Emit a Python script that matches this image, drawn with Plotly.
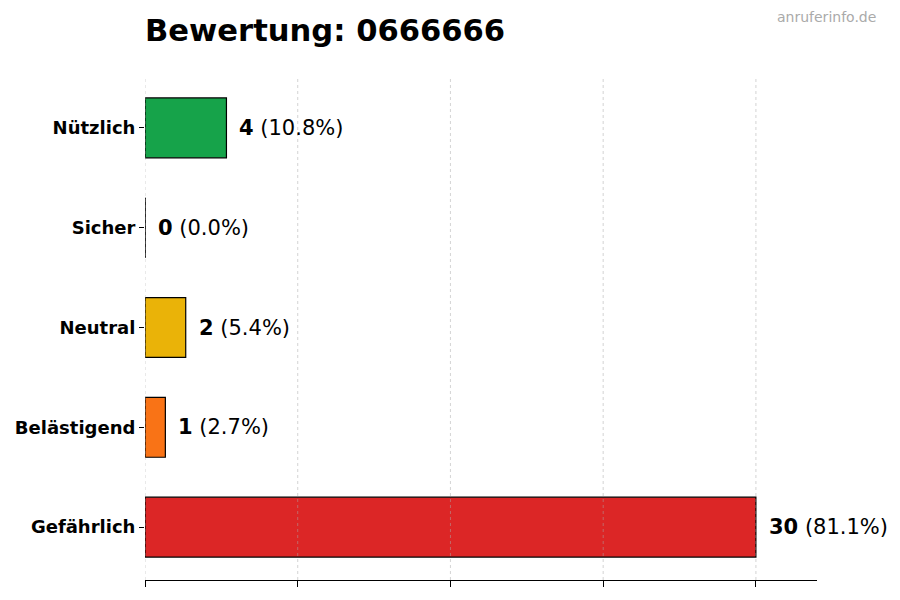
import plotly.graph_objects as go

categories = ["Gefährlich", "Belästigend", "Neutral", "Sicher", "Nützlich"]
counts = [30, 1, 2, 0, 4]
colors = ["#dc2626", "#f97316", "#eab308", "#16a34a", "#16a34a"]
x_ticks = [0, 7.5, 15, 22.5, 30]

total = sum(counts)
positions = list(range(len(categories)))

# page body has an 8px margin, so the figure is a bit smaller than the window
W, H = 884, 584
GRID = "rgba(170,170,170,0.5)"

fig = go.Figure()
fig.add_trace(go.Bar(
    x=counts, y=positions, orientation="h", width=0.6,
    marker=dict(color=colors, line=dict(color="black", width=1.2)),
    hoverinfo="skip",
))

# zero-width bar still gets its outline in the original
for pos, val in zip(positions, counts):
    if val == 0:
        fig.add_shape(type="line", x0=0, x1=0, y0=pos - 0.3, y1=pos + 0.3,
                      xref="x", yref="y", line=dict(color="black", width=1.2))

# grid drawn on top of the bars, like the original
for t in x_ticks:
    fig.add_shape(type="line", x0=t, x1=t, y0=0, y1=1, xref="x", yref="paper",
                  layer="above", line=dict(color=GRID, width=1, dash="3px,3px"))

for pos, val in zip(positions, counts):
    pct = val / total * 100
    fig.add_annotation(
        x=val, y=pos, xref="x", yref="y", xanchor="left", yanchor="middle",
        xshift=11, showarrow=False,
        text=f"<b>{val}</b> ({pct:.1f}%)",
        font=dict(family="DejaVu Sans", size=21, color="black"),
    )

fig.add_annotation(
    x=1, y=1, xref="paper", yref="paper", xanchor="right", yanchor="middle",
    xshift=61, yshift=59, showarrow=False,
    text="anruferinfo.de", font=dict(family="DejaVu Sans", size=14, color="#aaaaaa"),
)

fig.update_layout(
    width=W, height=H,
    margin=dict(l=137, r=75, t=68, b=12),
    plot_bgcolor="white", paper_bgcolor="white",
    showlegend=False,
    title=dict(text="<b>Bewertung: 0666666</b>", x=137 / W, xanchor="left",
               y=1 - 22 / H, yanchor="middle",
               font=dict(family="DejaVu Sans", size=30.6, color="black")),
    font=dict(family="DejaVu Sans", color="black"),
)
fig.update_xaxes(
    range=[0, 33], tickvals=x_ticks, showticklabels=False, automargin=False,
    ticks="outside", ticklen=6, tickcolor="black", layer="above traces",
    showgrid=False, showline=True, linecolor="black", linewidth=1.2, zeroline=False,
)
fig.update_yaxes(
    range=[-0.53, 4.52], tickvals=positions, ticktext=[f"<b>{c}</b>" for c in categories],
    automargin=False, ticks="outside", ticklen=5, tickcolor="black",
    tickfont=dict(family="DejaVu Sans", size=18, color="black"),
    showgrid=False, showline=False, zeroline=False,
)

fig.write_html("out.html")
